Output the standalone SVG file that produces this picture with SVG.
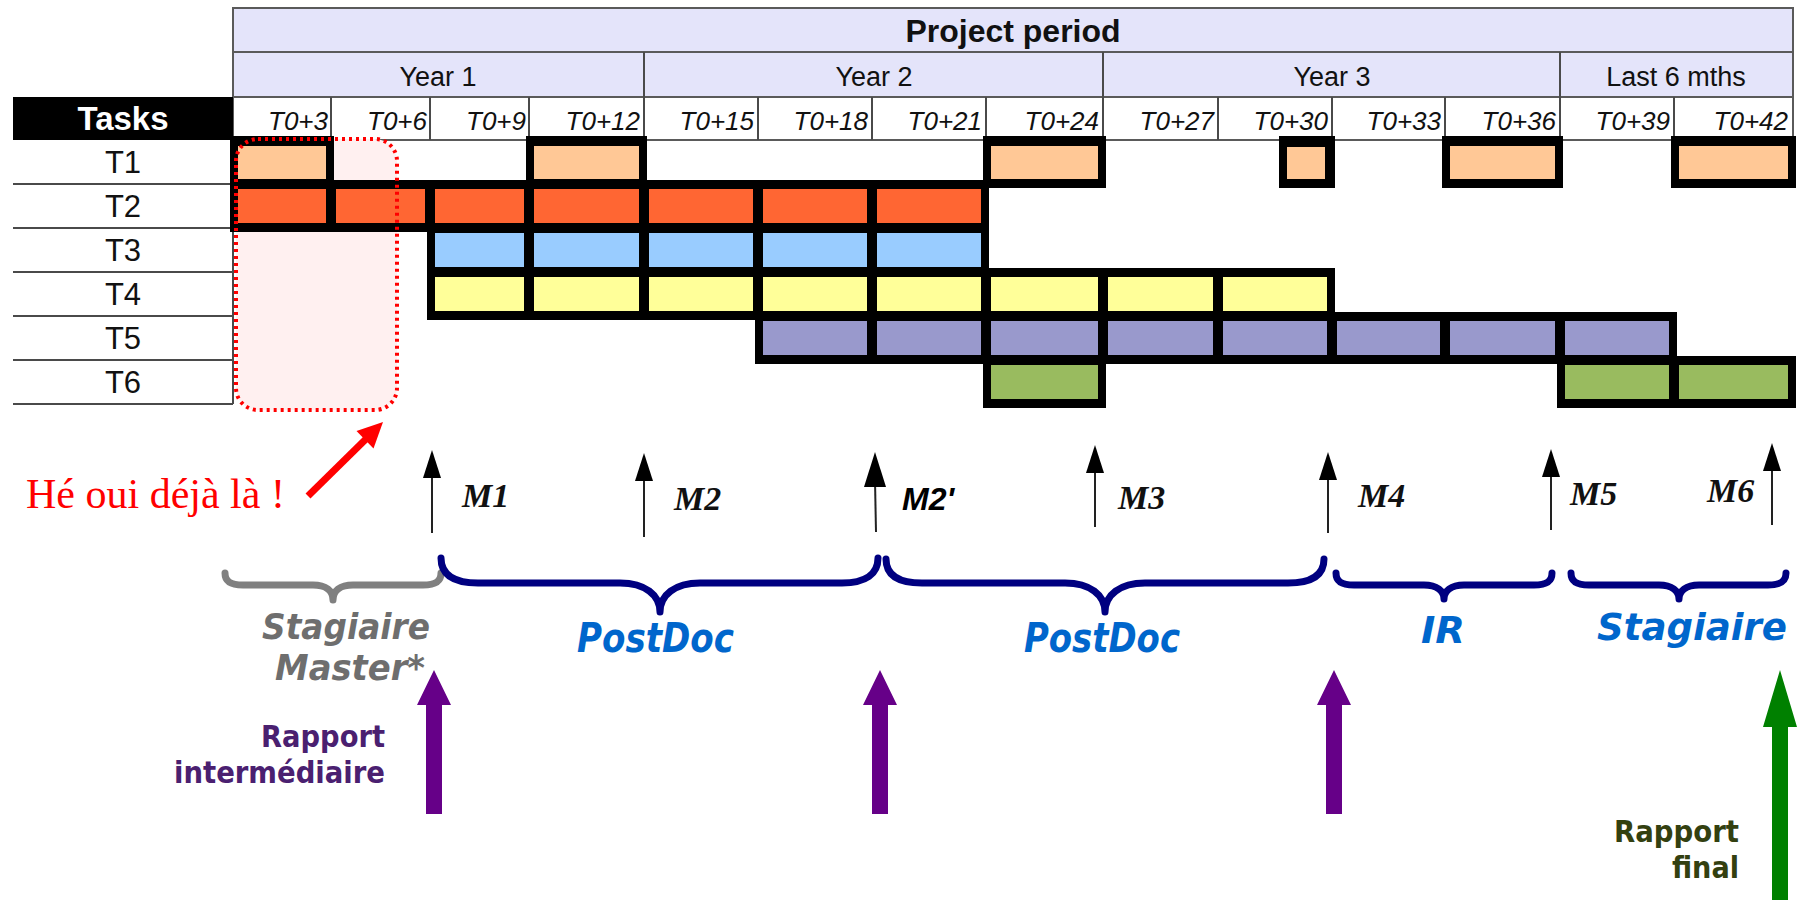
<svg xmlns="http://www.w3.org/2000/svg" width="1806" height="900" viewBox="0 0 1806 900">
<style>
.hdr{fill:#E4E4FA;stroke:#5a5a5a;stroke-width:2}
.ln{stroke:#4a4a4a;stroke-width:2;fill:none}
.sans{font-family:"Liberation Sans",Arial,sans-serif}
.t0{font-family:"Liberation Sans",Arial,sans-serif;font-style:italic;font-size:26px;fill:#111;text-anchor:end}
.yr{font-family:"Liberation Sans",Arial,sans-serif;font-size:27px;fill:#111;text-anchor:middle}
.tl{font-family:"Liberation Sans",Arial,sans-serif;font-size:31px;fill:#111;text-anchor:middle}
.blk{fill:#000}
.c1{fill:#FFC896}.c2{fill:#FF6633}.c3{fill:#99CCFF}.c4{fill:#FFFF99}.c5{fill:#9999CC}.c6{fill:#99BB5F}
.ms{stroke:#222;stroke-width:2;fill:none}
.mh{fill:#000}
.ml{font-family:"Liberation Serif","Times New Roman",serif;font-weight:bold;font-style:italic;font-size:34px;fill:#111}
.br{fill:none;stroke:#000080;stroke-width:7;stroke-linecap:round;stroke-linejoin:round}
.brg{fill:none;stroke:#808080;stroke-width:7;stroke-linecap:round;stroke-linejoin:round}
.hand{font-family:"DejaVu Sans",sans-serif;font-weight:700;font-style:oblique}
.hand2{font-family:"DejaVu Sans",sans-serif;font-weight:700}
.pa{fill:#660088}
</style>

<g id="table-header">
  <rect class="hdr" x="233" y="8" width="1560" height="44"/>
  <text class="sans" x="1013" y="42" font-size="32" font-weight="bold" text-anchor="middle" fill="#111">Project period</text>
  <rect class="hdr" x="233" y="52" width="1560" height="45"/>
  <rect x="233" y="97" width="1560" height="43" fill="#fff" stroke="#5a5a5a" stroke-width="2"/>
  <line class="ln" x1="644" y1="52" x2="644" y2="140"/>
  <line class="ln" x1="1103" y1="52" x2="1103" y2="140"/>
  <line class="ln" x1="1560" y1="52" x2="1560" y2="140"/>
  <line class="ln" x1="331" y1="97" x2="331" y2="140"/>
  <line class="ln" x1="430" y1="97" x2="430" y2="140"/>
  <line class="ln" x1="529" y1="97" x2="529" y2="140"/>
  <line class="ln" x1="758" y1="97" x2="758" y2="140"/>
  <line class="ln" x1="872" y1="97" x2="872" y2="140"/>
  <line class="ln" x1="986" y1="97" x2="986" y2="140"/>
  <line class="ln" x1="1218" y1="97" x2="1218" y2="140"/>
  <line class="ln" x1="1332" y1="97" x2="1332" y2="140"/>
  <line class="ln" x1="1445" y1="97" x2="1445" y2="140"/>
  <line class="ln" x1="1674" y1="97" x2="1674" y2="140"/>
  <text class="yr" x="438" y="86">Year 1</text>
  <text class="yr" x="874" y="86">Year 2</text>
  <text class="yr" x="1332" y="86">Year 3</text>
  <text class="yr" x="1676" y="86">Last 6 mths</text>
  <text class="t0" x="328" y="130">T0+3</text>
  <text class="t0" x="427" y="130">T0+6</text>
  <text class="t0" x="526" y="130">T0+9</text>
  <text class="t0" x="640" y="130">T0+12</text>
  <text class="t0" x="754" y="130">T0+15</text>
  <text class="t0" x="868" y="130">T0+18</text>
  <text class="t0" x="982" y="130">T0+21</text>
  <text class="t0" x="1099" y="130">T0+24</text>
  <text class="t0" x="1214" y="130">T0+27</text>
  <text class="t0" x="1328" y="130">T0+30</text>
  <text class="t0" x="1441" y="130">T0+33</text>
  <text class="t0" x="1556" y="130">T0+36</text>
  <text class="t0" x="1670" y="130">T0+39</text>
  <text class="t0" x="1788" y="130">T0+42</text>
</g>

<g id="task-labels">
  <rect x="13" y="97" width="220" height="43" fill="#000"/>
  <text class="sans" x="123" y="130" font-size="33" font-weight="bold" fill="#fff" text-anchor="middle">Tasks</text>
  <line class="ln" x1="13" y1="184" x2="233" y2="184"/>
  <line class="ln" x1="13" y1="228" x2="233" y2="228"/>
  <line class="ln" x1="13" y1="272" x2="233" y2="272"/>
  <line class="ln" x1="13" y1="316" x2="233" y2="316"/>
  <line class="ln" x1="13" y1="360" x2="233" y2="360"/>
  <line class="ln" x1="13" y1="404" x2="233" y2="404"/>
  <line class="ln" x1="233" y1="140" x2="233" y2="404"/>
  <text class="tl" x="123" y="173">T1</text>
  <text class="tl" x="123" y="217">T2</text>
  <text class="tl" x="123" y="261">T3</text>
  <text class="tl" x="123" y="305">T4</text>
  <text class="tl" x="123" y="349">T5</text>
  <text class="tl" x="123" y="393">T6</text>
</g>

<rect id="highlight-fill" x="236" y="139" width="161" height="271" rx="22" fill="#FFF0F0"/>

<g id="bars-outline">
  <rect class="blk" x="230" y="136" width="104" height="52"/>
  <rect class="blk" x="526" y="136" width="121" height="52"/>
  <rect class="blk" x="983" y="136" width="123" height="52"/>
  <rect class="blk" x="1279" y="136" width="56" height="52"/>
  <rect class="blk" x="1442" y="136" width="121" height="52"/>
  <rect class="blk" x="1671" y="136" width="125" height="52"/>
  <rect class="blk" x="230" y="180" width="759" height="52"/>
  <rect class="blk" x="427" y="224" width="562" height="52"/>
  <rect class="blk" x="427" y="268" width="908" height="52"/>
  <rect class="blk" x="755" y="312" width="922" height="52"/>
  <rect class="blk" x="983" y="356" width="123" height="52"/>
  <rect class="blk" x="1557" y="356" width="239" height="52"/>
</g>

<g id="task-T1">
  <rect class="c1" x="238" y="146" width="88" height="33"/>
  <rect class="c1" x="534" y="146" width="105" height="33"/>
  <rect class="c1" x="991" y="146" width="107" height="33"/>
  <rect class="c1" x="1287" y="147" width="38" height="32"/>
  <rect class="c1" x="1450" y="146" width="105" height="33"/>
  <rect class="c1" x="1679" y="146" width="109" height="33"/>
</g>
<g id="task-T2">
  <rect class="c2" x="238" y="189" width="88" height="34"/>
  <rect class="c2" x="336" y="189" width="89" height="34"/>
  <rect class="c2" x="435" y="189" width="89" height="34"/>
  <rect class="c2" x="534" y="189" width="105" height="34"/>
  <rect class="c2" x="649" y="189" width="104" height="34"/>
  <rect class="c2" x="763" y="189" width="104" height="34"/>
  <rect class="c2" x="877" y="189" width="104" height="34"/>
</g>
<g id="task-T3">
  <rect class="c3" x="435" y="233" width="89" height="34"/>
  <rect class="c3" x="534" y="233" width="105" height="34"/>
  <rect class="c3" x="649" y="233" width="104" height="34"/>
  <rect class="c3" x="763" y="233" width="104" height="34"/>
  <rect class="c3" x="877" y="233" width="104" height="34"/>
</g>
<g id="task-T4">
  <rect class="c4" x="435" y="277" width="89" height="34"/>
  <rect class="c4" x="534" y="277" width="105" height="34"/>
  <rect class="c4" x="649" y="277" width="104" height="34"/>
  <rect class="c4" x="763" y="277" width="104" height="34"/>
  <rect class="c4" x="877" y="277" width="104" height="34"/>
  <rect class="c4" x="991" y="277" width="107" height="34"/>
  <rect class="c4" x="1108" y="277" width="105" height="34"/>
  <rect class="c4" x="1223" y="277" width="104" height="34"/>
</g>
<g id="task-T5">
  <rect class="c5" x="763" y="321" width="104" height="34"/>
  <rect class="c5" x="877" y="321" width="104" height="34"/>
  <rect class="c5" x="991" y="321" width="107" height="34"/>
  <rect class="c5" x="1108" y="321" width="105" height="34"/>
  <rect class="c5" x="1223" y="321" width="104" height="34"/>
  <rect class="c5" x="1337" y="321" width="103" height="34"/>
  <rect class="c5" x="1450" y="321" width="105" height="34"/>
  <rect class="c5" x="1565" y="321" width="104" height="34"/>
</g>
<g id="task-T6">
  <rect class="c6" x="991" y="365" width="107" height="34"/>
  <rect class="c6" x="1565" y="365" width="104" height="34"/>
  <rect class="c6" x="1679" y="365" width="109" height="34"/>
</g>

<g id="highlight">
  <rect x="236" y="139" width="161" height="271" rx="22" fill="none" stroke="#FF0000" stroke-width="4" stroke-dasharray="3 4"/>
</g>

<g id="connectors">
  <line x1="308" y1="496" x2="367" y2="438" stroke="#FF0000" stroke-width="7"/>
  <polygon points="383,422 373.5,448.5 356.5,431" fill="#FF0000"/>
  <line class="ms" x1="432" y1="533" x2="432" y2="470"/>
  <polygon class="mh" points="432,450 423,478 441,478"/>
  <line class="ms" x1="644" y1="537" x2="644" y2="473"/>
  <polygon class="mh" points="644,453 635,481 653,481"/>
  <line class="ms" x1="876" y1="532" x2="875" y2="480"/>
  <polygon class="mh" points="875,452 864,487 886,487"/>
  <line class="ms" x1="1095" y1="527" x2="1095" y2="465"/>
  <polygon class="mh" points="1095,445 1086,473 1104,473"/>
  <line class="ms" x1="1328" y1="533" x2="1328" y2="472"/>
  <polygon class="mh" points="1328,452 1319,480 1337,480"/>
  <line class="ms" x1="1551" y1="530" x2="1551" y2="469"/>
  <polygon class="mh" points="1551,449 1542,477 1560,477"/>
  <line class="ms" x1="1772" y1="525" x2="1772" y2="463"/>
  <polygon class="mh" points="1772,443 1763,471 1781,471"/>
  <polygon class="pa" points="434,670 451,705 442,705 442,814 426,814 426,705 417,705"/>
  <polygon class="pa" points="880,670 897,705 888,705 888,814 872,814 872,705 863,705"/>
  <polygon class="pa" points="1334,670 1351,705 1342,705 1342,814 1326,814 1326,705 1317,705"/>
  <polygon fill="#008000" points="1780,670 1797,727 1788,727 1788,900 1772,900 1772,727 1763,727"/>
</g>

<g id="milestone-labels">
  <text class="ml" x="462" y="507">M1</text>
  <text class="ml" x="674" y="510">M2</text>
  <text class="sans" x="902" y="510" font-size="32" font-weight="bold" font-style="italic" fill="#000">M2'</text>
  <text class="ml" x="1118" y="509">M3</text>
  <text class="ml" x="1358" y="507">M4</text>
  <text class="ml" x="1570" y="505">M5</text>
  <text class="ml" x="1707" y="502">M6</text>
</g>

<g id="note">
  <text x="26" y="508" font-family="'Liberation Serif','Times New Roman',serif" font-size="42" fill="#FF0000">Hé oui déjà là !</text>
</g>

<g id="braces">
  <path class="brg" d="M225,573 C225,581 230,585 243,585 L313,585 C326,585 333,591 333,600 C333,591 340,585 353,585 L423,585 C436,585 441,581 441,573"/>
  <path class="br" d="M441,558 C441,574 452,583 478,583 L620,583 C645,583 660,595 660,612 C660,595 675,583 700,583 L842,583 C866,583 878,574 878,558"/>
  <path class="br" d="M886,559 C886,575 898,583 922,583 L1065,583 C1090,583 1105,595 1105,612 C1105,595 1120,583 1145,583 L1288,583 C1312,583 1324,575 1324,559"/>
  <path class="br" d="M1336,573 C1336,581 1341,585 1354,585 L1424,585 C1437,585 1444,591 1444,599 C1444,591 1451,585 1464,585 L1534,585 C1547,585 1552,581 1552,573"/>
  <path class="br" d="M1571,573 C1571,581 1576,585 1589,585 L1659,585 C1672,585 1679,591 1679,599 C1679,591 1686,585 1699,585 L1768,585 C1781,585 1786,581 1786,573"/>
</g>

<g id="staff-labels">
  <text class="hand" x="262" y="639" font-size="35" fill="#6E6E6E" textLength="168" lengthAdjust="spacingAndGlyphs">Stagiaire</text>
  <text class="hand" x="275" y="680" font-size="35" fill="#6E6E6E" textLength="150" lengthAdjust="spacingAndGlyphs">Master*</text>
  <text class="hand" x="577" y="652" font-size="40" fill="#0066CC" textLength="157" lengthAdjust="spacingAndGlyphs">PostDoc</text>
  <text class="hand" x="1024" y="652" font-size="40" fill="#0066CC" textLength="156" lengthAdjust="spacingAndGlyphs">PostDoc</text>
  <text class="hand" x="1421" y="643" font-size="38" fill="#0066CC" textLength="44" lengthAdjust="spacingAndGlyphs">IR</text>
  <text class="hand" x="1597" y="640" font-size="38" fill="#0066CC" textLength="190" lengthAdjust="spacingAndGlyphs">Stagiaire</text>
</g>

<g id="report-labels">
  <text class="hand2" x="261" y="747" font-size="30" fill="#4A2070" textLength="124" lengthAdjust="spacingAndGlyphs">Rapport</text>
  <text class="hand2" x="174" y="783" font-size="30" fill="#4A2070" textLength="211" lengthAdjust="spacingAndGlyphs">intermédiaire</text>
  <text class="hand2" x="1614" y="842" font-size="30" fill="#334010" textLength="125" lengthAdjust="spacingAndGlyphs">Rapport</text>
  <text class="hand2" x="1672" y="878" font-size="30" fill="#334010" textLength="67" lengthAdjust="spacingAndGlyphs">final</text>
</g>
</svg>
